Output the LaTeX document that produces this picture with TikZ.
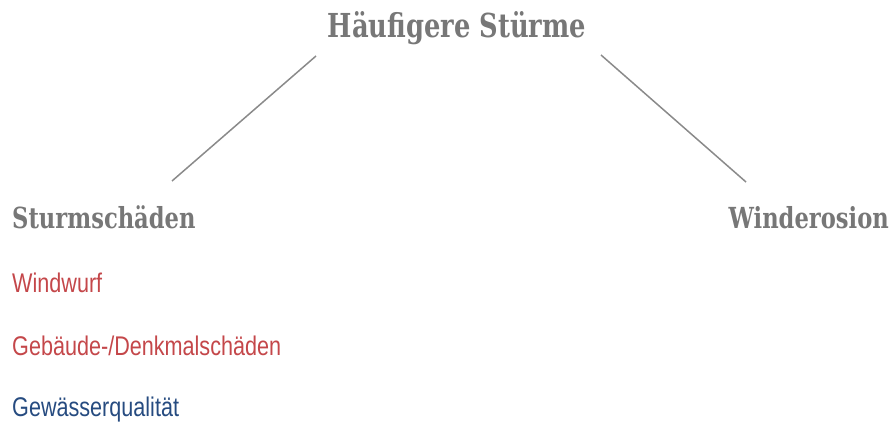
\documentclass[tikz,border=0pt]{standalone}
\usepackage{fontspec}
\setmainfont{Liberation Sans}
\newfontfamily\headfont[FakeStretch=0.78]{DejaVu Serif}
\newfontfamily\itemfont[FakeStretch=0.80]{Liberation Sans}
\definecolor{headgrey}{HTML}{777777}
\definecolor{linegrey}{HTML}{8A8A8A}
\definecolor{itemred}{HTML}{C4474A}
\definecolor{itemblue}{HTML}{264B80}
\tikzset{
  headtext/.style={anchor=base west, inner sep=0pt, text=headgrey, font=\headfont\bfseries\fontsize{29}{32}\selectfont},
  titletext/.style={anchor=base, inner sep=0pt, text=headgrey, font=\headfont\bfseries\fontsize{33}{36}\selectfont},
  itemtext/.style={anchor=base west, inner sep=0pt, font=\itemfont\fontsize{27}{30}\selectfont},
  link/.style={draw=linegrey, line width=1.5pt}
}
\begin{document}
\begin{tikzpicture}[x=1pt,y=-1pt]
\useasboundingbox (0,0) rectangle (892,422);
\node[titletext] (title) at (457,38) {Häufigere Stürme};
\node[headtext] (sturm) at (12,229) {Sturmschäden};
\node[headtext, anchor=base east] (wind) at (889,229) {Winderosion};
\node[itemtext, text=itemred] (wurf) at (12,293) {Windwurf};
\node[itemtext, text=itemred] (gebaeude) at (12,355) {Gebäude-/Denkmalschäden};
\node[itemtext, text=itemblue] (gewaesser) at (12,416) {Gewässerqualität};
\coordinate (tl) at (316,56);
\coordinate (sl) at (172,181);
\coordinate (tr) at (601,55);
\coordinate (wr) at (746,182);
\draw[link] (tl) -- (sl);
\draw[link] (tr) -- (wr);
\end{tikzpicture}
\end{document}
